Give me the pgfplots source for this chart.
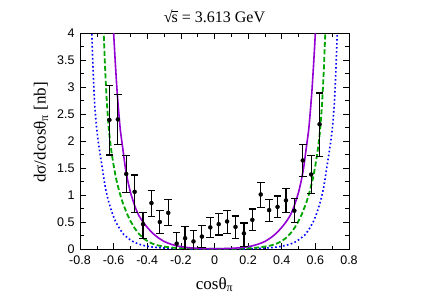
\documentclass[border=0pt]{standalone}
\usepackage{fontspec}
\setmainfont{Liberation Serif}
\setsansfont{Liberation Sans}
\usepackage{pgfplots}
\pgfplotsset{compat=1.18}
\usepackage{pgfplotstable}

\definecolor{cpurple}{RGB}{148,0,211}
\definecolor{cgreen}{RGB}{0,165,0}
\definecolor{cblue}{RGB}{0,0,255}

\newcommand\sqs{√\kern-0.06em\rlap{\rule[0.66em]{0.40em}{0.05em}}s}

\pgfplotstableread{
x y ep em
-0.625 2.39 0.64 0.65
-0.575 2.40 0.46 0.47
-0.525 1.39 0.34 0.35
-0.475 1.06 0.31 0.39
-0.425 0.46 0.22 0.26
-0.375 0.85 0.24 0.25
-0.325 0.50 0.21 0.21
-0.275 0.67 0.24 0.23
-0.225 0.10 0.20 0.20
-0.175 0.20 0.21 0.21
-0.125 0.14 0.20 0.20
-0.075 0.23 0.20 0.20
-0.025 0.40 0.18 0.18
0.025 0.46 0.20 0.20
0.075 0.51 0.20 0.22
0.125 0.41 0.20 0.21
0.175 0.29 0.19 0.25
0.225 0.54 0.20 0.20
0.275 1.01 0.22 0.24
0.325 0.72 0.20 0.21
0.375 0.78 0.20 0.20
0.425 0.90 0.22 0.22
0.475 0.71 0.22 0.22
0.525 1.64 0.29 0.30
0.575 1.38 0.35 0.35
0.625 2.31 0.58 0.59
}\datatable

\begin{document}
\begin{tikzpicture}[x=1pt,y=1pt]
\useasboundingbox (0,0) rectangle (425,297);
\begin{axis}[
  at={(80pt,48pt)}, anchor=south west,
  scale only axis, width=269pt, height=216pt,
  xmin=-0.8, xmax=0.8, ymin=0, ymax=4,
  xtick={-0.8,-0.6,-0.4,-0.2,0,0.2,0.4,0.6,0.8},
  minor xtick={-0.7,-0.5,-0.3,-0.1,0.1,0.3,0.5,0.7},
  ytick={0,0.5,1,1.5,2,2.5,3,3.5,4},
  minor ytick={0.25,0.75,1.25,1.75,2.25,2.75,3.25,3.75},
  tick align=inside,
  major tick length=6pt, minor tick length=3.5pt,
  axis line style={line width=0.8pt},
  every tick/.style={black, line width=0.6pt},
  /pgf/number format/assume math mode=true,
  tick label style={font=\sffamily\fontsize{12.5}{14}\selectfont},
  xticklabel style={yshift=-3pt},
  yticklabel style={xshift=-2pt},
  title={\sqs{} = 3.613 GeV},
  title style={font=\fontsize{16}{18}\selectfont, at={(axis description cs:0.5,1)}, anchor=base, yshift=4.5pt},
  xlabel={cosθ\textsubscript{π}},
  xlabel style={font=\fontsize{17}{19}\selectfont, at={(axis description cs:0.5,-0.165)}, anchor=center},
  ylabel={dσ/dcosθ\textsubscript{π} [nb]},
  ylabel style={font=\fontsize{17}{19}\selectfont, at={(axis description cs:-0.145,0.54)}, anchor=center},
]
% blue dotted
\addplot[cblue, line width=1.6pt, dash pattern=on 1.6pt off 2.4pt, smooth, tension=0.3] coordinates {
(-0.736,4.5) (-0.730,4.0) (-0.722,3.3) (-0.713,2.7) (-0.703,2.3) (-0.692,2.0) (-0.680,1.75)
(-0.665,1.45) (-0.650,1.15) (-0.630,0.88) (-0.610,0.68) (-0.590,0.52) (-0.565,0.38)
(-0.540,0.27) (-0.510,0.19) (-0.480,0.13) (-0.450,0.09) (-0.420,0.065) (-0.390,0.045)
(-0.350,0.03) (-0.300,0.018) (-0.250,0.01) (-0.200,0.006) (-0.100,0.003) (0,0.002)
(0.100,0.003) (0.200,0.006) (0.250,0.01) (0.300,0.018) (0.350,0.03) (0.390,0.045)
(0.420,0.065) (0.450,0.09) (0.480,0.13) (0.510,0.19) (0.540,0.27) (0.565,0.38)
(0.590,0.52) (0.610,0.68) (0.630,0.88) (0.650,1.15) (0.665,1.45) (0.680,1.75)
(0.692,2.0) (0.703,2.3) (0.713,2.7) (0.722,3.3) (0.730,4.0) (0.736,4.5)
};
% green dashed
\addplot[cgreen, line width=1.8pt, dash pattern=on 5pt off 2.5pt, smooth, tension=0.3] coordinates {
(-0.665,4.5) (-0.659,4.0) (-0.650,3.3) (-0.640,2.7) (-0.628,2.2) (-0.615,1.85) (-0.600,1.55)
(-0.585,1.3) (-0.565,1.05) (-0.545,0.85) (-0.520,0.65) (-0.500,0.52) (-0.480,0.41)
(-0.460,0.32) (-0.440,0.25) (-0.420,0.19) (-0.400,0.15) (-0.370,0.10) (-0.340,0.07)
(-0.300,0.045) (-0.250,0.025) (-0.200,0.014) (-0.150,0.008) (-0.100,0.005) (0,0.003)
(0.100,0.005) (0.150,0.008) (0.200,0.014) (0.250,0.025) (0.300,0.045) (0.340,0.07)
(0.370,0.10) (0.400,0.15) (0.420,0.19) (0.440,0.25) (0.460,0.32) (0.480,0.41)
(0.500,0.52) (0.520,0.65) (0.545,0.85) (0.565,1.05) (0.585,1.3) (0.600,1.55)
(0.615,1.85) (0.628,2.2) (0.640,2.7) (0.650,3.3) (0.659,4.0) (0.665,4.5)
};
% purple solid
\addplot[cpurple, line width=1.6pt, smooth, tension=0.3] coordinates {
(-0.608,4.5) (-0.600,4.0) (-0.590,3.45) (-0.580,2.95) (-0.570,2.55) (-0.560,2.2)
(-0.545,1.85) (-0.530,1.5) (-0.515,1.25) (-0.500,1.05) (-0.485,0.9) (-0.470,0.76)
(-0.450,0.62) (-0.425,0.5) (-0.400,0.40) (-0.370,0.30) (-0.340,0.22) (-0.300,0.14)
(-0.260,0.09) (-0.220,0.055) (-0.180,0.035) (-0.140,0.02) (-0.100,0.012) (-0.050,0.008)
(0,0.006) (0.050,0.008) (0.100,0.012) (0.140,0.02) (0.180,0.035) (0.220,0.055)
(0.260,0.09) (0.300,0.14) (0.340,0.22) (0.370,0.30) (0.400,0.40) (0.425,0.5)
(0.450,0.62) (0.470,0.76) (0.485,0.9) (0.500,1.05) (0.515,1.25) (0.530,1.5)
(0.545,1.85) (0.560,2.2) (0.570,2.55) (0.580,2.95) (0.590,3.45) (0.600,4.0) (0.608,4.5)
};
% data
\addplot[black, only marks, mark=*, mark size=2pt,
  error bars/.cd, y dir=both, y explicit,
  error bar style={line width=1.2pt, black},
  error mark options={rotate=90, mark size=3.8pt, line width=1.2pt, black}]
  table[x=x, y=y, y error plus=ep, y error minus=em] {\datatable};
\end{axis}
\end{tikzpicture}
\end{document}
